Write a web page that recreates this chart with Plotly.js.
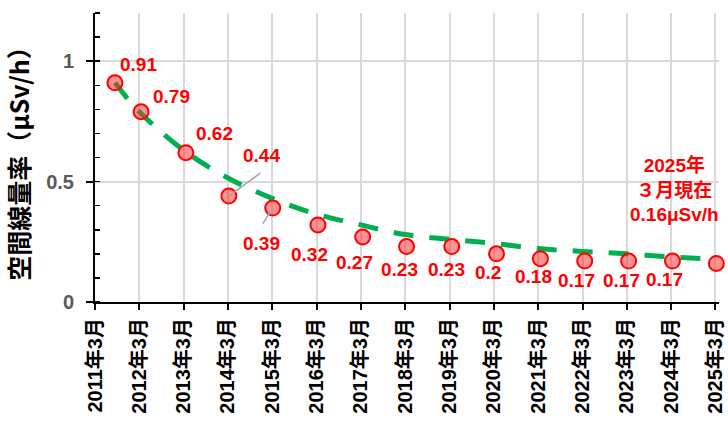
<!DOCTYPE html>
<html><head><meta charset="utf-8">
<script src="https://cdn.plot.ly/plotly-3.0.1.min.js"></script>
<style>html,body{margin:0;padding:0;background:#fff;}#chart{width:728px;height:426px;}</style>
</head><body><div id="chart"></div>
<script>
// measurement timing (decimal year) and values (μSv/h)
const measureX = [2011.45, 2012.04, 2013.05, 2014.02, 2015.01, 2016.03, 2017.04, 2018.03, 2019.05, 2020.06, 2021.05, 2022.05, 2023.04, 2024.03, 2025.02];
const doseRate = [0.91, 0.79, 0.62, 0.44, 0.39, 0.32, 0.27, 0.23, 0.23, 0.2, 0.18, 0.17, 0.17, 0.17, 0.16];
// approximate trend curve (green dashed)
const trendX = [2011.45, 2012, 2013, 2014, 2015, 2016, 2017, 2018, 2019, 2020, 2021, 2022, 2023, 2024, 2025];
const trendY = [0.91, 0.79, 0.63, 0.515, 0.43, 0.365, 0.32, 0.28, 0.26, 0.243, 0.222, 0.21, 0.2, 0.187, 0.178];
// tick labels
const tickYears = [2011, 2012, 2013, 2014, 2015, 2016, 2017, 2018, 2019, 2020, 2021, 2022, 2023, 2024, 2025];
const tickLabels = tickYears.map(y => y + '年3月');
const yTitle = '空間線量率（μSv/h）';
const noteText = '2025年<br>３月現在<br>0.16μSv/h';

// label offsets (px) relative to each point
const labelDx = [24, 30, 29, 33, -11, -8, -8, -7, -5, -9, -7, -8, -7, -8];
const labelDy = [18, 15, 19, 41, -35, -30, -26, -23, -23, -19, -18, -19, -19, -18];

const FONT = 'Liberation Sans, Arial, Noto Sans CJK JP, sans-serif';

const traces = [
  {x: trendX, y: trendY, type: 'scatter', mode: 'lines',
   line: {color: '#00b050', width: 5, dash: '20px,16px', shape: 'spline', smoothing: 1},
   hoverinfo: 'skip', cliponaxis: false},
  {x: measureX, y: doseRate, type: 'scatter', mode: 'markers',
   marker: {size: 15, color: 'rgba(255,40,40,0.5)', line: {color: '#ff0000', width: 2}},
   cliponaxis: false}
];

const annotations = [];
for (let i = 0; i < labelDx.length; i++) {
  annotations.push({x: measureX[i], y: doseRate[i], xref: 'x', yref: 'y',
    text: String(doseRate[i]), showarrow: false, xshift: labelDx[i], yshift: labelDy[i],
    font: {family: FONT, size: 19, color: '#ff0000', weight: 700}});
}
// leader lines for 0.44 and 0.39
annotations.push({x: measureX[3], y: doseRate[3], xref: 'x', yref: 'y', text: '', showarrow: true,
  arrowhead: 0, arrowwidth: 1.5, arrowcolor: '#a6a6a6', ax: 33, ay: -24, standoff: 0});
annotations.push({x: measureX[4], y: doseRate[4], xref: 'x', yref: 'y', text: '', showarrow: true,
  arrowhead: 0, arrowwidth: 1.5, arrowcolor: '#a6a6a6', ax: -11, ay: 17, standoff: 0});
// current-value note
annotations.push({x: measureX[14], y: doseRate[14], xref: 'x', yref: 'y', text: noteText,
  showarrow: false, xshift: -42, yshift: 74, align: 'center',
  font: {family: FONT, size: 19, color: '#ff0000', weight: 700}});

const layout = {
  width: 728, height: 426,
  margin: {l: 95, r: 9, t: 13, b: 124},
  paper_bgcolor: '#fff', plot_bgcolor: '#fff',
  showlegend: false,
  xaxis: {
    range: [2011, 2025.08], tickmode: 'array', tickvals: tickYears, ticktext: tickLabels,
    tickangle: -90, ticks: 'outside', ticklen: 6, tickwidth: 2, tickcolor: '#000',
    showline: true, linecolor: '#000', linewidth: 2,
    showgrid: true, gridcolor: '#d9d9d9', gridwidth: 2, zeroline: false,
    tickfont: {family: FONT, size: 20, color: '#000', weight: 700}
  },
  yaxis: {
    range: [0, 1.2], tickmode: 'array', tickvals: [0, 0.5, 1], ticktext: ['0', '0.5', '1'],
    ticks: 'outside', ticklen: 7, tickwidth: 2, tickcolor: '#000',
    minor: {dtick: 0.1, ticks: 'inside', ticklen: 5, tickwidth: 1.5, tickcolor: '#000', showgrid: false},
    showline: true, linecolor: '#000', linewidth: 2,
    showgrid: true, gridcolor: '#d9d9d9', gridwidth: 2, zeroline: false,
    ticklabelstandoff: 8,
    tickfont: {family: FONT, size: 20, color: '#595959', weight: 700},
    title: {text: yTitle, standoff: 12, font: {family: 'Noto Sans CJK JP, sans-serif', size: 25, color: '#000', weight: 700}}
  },
  annotations: annotations
};

Plotly.newPlot('chart', traces, layout, {staticPlot: true});
</script>
</body></html>
